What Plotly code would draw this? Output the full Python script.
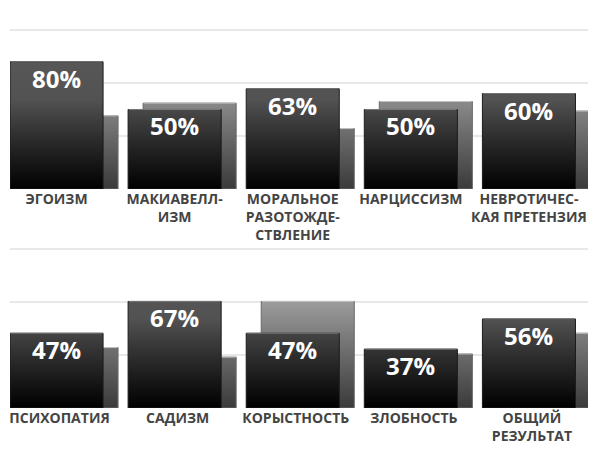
'''
Two rows of paired bars: test score (front, dark) against a reference level (back, grey).
'''

import plotly.graph_objects as go

# Row 1
labels_top = [
    'ЭГОИЗМ',
    'МАКИАВЕЛЛ-<br>ИЗМ',
    'МОРАЛЬНОЕ<br>РАЗОТОЖДЕ-<br>СТВЛЕНИЕ',
    'НАРЦИССИЗМ',
    'НЕВРОТИЧЕС-<br>КАЯ ПРЕТЕНЗИЯ',
]
score_top = [80, 50, 63, 50, 60]
norm_top = [46, 54, 38, 55, 49]

# Row 2
labels_bottom = [
    'ПСИХОПАТИЯ',
    'САДИЗМ',
    'КОРЫСТНОСТЬ',
    'ЗЛОБНОСТЬ',
    'ОБЩИЙ<br>РЕЗУЛЬТАТ',
]
score_bottom = [47, 67, 47, 37, 56]
norm_bottom = [38, 32, 67, 34, 47]

BAR_W = 0.788       # bar width in category units
BACK_SHIFT = 0.127  # back bar offset to the right
FONT = 'Open Sans'


def rects(values, shift):
    '''Polygon outlines for a set of bars, separated by None.'''
    xs, ys = [], []
    for i, v in enumerate(values):
        x0 = i - BAR_W / 2 + shift
        x1 = x0 + BAR_W
        h = v / 100
        xs += [x0, x0, x1, x1, x0, None]
        ys += [0, h, h, 0, 0, None]
    return xs, ys


def tops(values, shift):
    '''Top edges of bars (lighter highlight line).'''
    xs, ys = [], []
    for i, v in enumerate(values):
        x0 = i - BAR_W / 2 + shift
        xs += [x0 + 0.006, x0 + BAR_W - 0.006, None]
        ys += [v / 100, v / 100, None]
    return xs, ys


def add_row(fig, scores, norms, xa, ya):
    # back (reference) bars
    bx, by = rects(norms, BACK_SHIFT)
    fig.add_trace(go.Scatter(
        x=bx, y=by, xaxis=xa, yaxis=ya,
        mode='lines', fill='toself',
        fillgradient={'type': 'vertical', 'start': 0, 'stop': 0.67,
                      'colorscale': [[0, '#3a3a3a'], [0.5, '#6a6a6a'],
                                     [1, '#9c9c9c']]},
        line={'color': '#6a6a6a', 'width': 1},
        hoverinfo='skip', showlegend=False
    ))
    tx, ty = tops(norms, BACK_SHIFT)
    fig.add_trace(go.Scatter(
        x=tx, y=ty, xaxis=xa, yaxis=ya, mode='lines',
        line={'color': '#c4c4c4', 'width': 1},
        hoverinfo='skip', showlegend=False
    ))

    # front (score) bars
    fx, fy = rects(scores, 0)
    fig.add_trace(go.Scatter(
        x=fx, y=fy, xaxis=xa, yaxis=ya,
        mode='lines', fill='toself',
        fillgradient={'type': 'vertical', 'start': 0, 'stop': 0.8,
                      'colorscale': [[0, '#000000'], [0.19, '#151515'],
                                     [0.375, '#2a2a2a'], [0.525, '#3c3c3c'],
                                     [0.7, '#525252'], [1, '#575757']]},
        line={'color': '#1c1c1c', 'width': 1},
        hoverinfo='skip', showlegend=False
    ))
    tx, ty = tops(scores, 0)
    fig.add_trace(go.Scatter(
        x=tx, y=ty, xaxis=xa, yaxis=ya, mode='lines',
        line={'color': '#7a7a7a', 'width': 1},
        hoverinfo='skip', showlegend=False
    ))

    # value labels inside the front bars
    for i, v in enumerate(scores):
        fig.add_annotation(
            x=i, y=v / 100, xref=xa, yref=ya,
            text=f'{v}%', showarrow=False,
            yanchor='top', yshift=2,
            font={'family': FONT, 'size': 24, 'color': 'white',
                  'weight': 'bold'},
        )


def main() -> None:
    fig = go.Figure()
    add_row(fig, score_top, norm_top, 'x', 'y')
    add_row(fig, score_bottom, norm_bottom, 'x2', 'y2')

    xcommon = dict(
        range=[-0.394, 4.5],
        showgrid=False, zeroline=False, showline=False,
        ticks='',
        automargin=False,
        ticklabeloverflow='allow',
        tickfont={'family': FONT, 'size': 14, 'color': '#444444',
                  'weight': 'bold'},
        fixedrange=True,
    )
    ycommon = dict(
        range=[0, 1.02],
        tickvals=[0, 1 / 3, 2 / 3, 1],
        showticklabels=False,
        showgrid=True, gridcolor='#e8e8e8', gridwidth=2,
        zeroline=False, showline=False,
        automargin=False,
        fixedrange=True,
    )

    fig.update_layout(
        xaxis={**xcommon, 'anchor': 'y', 'domain': [0, 1],
               'tickvals': list(range(5)), 'ticktext': labels_top},
        yaxis={**ycommon, 'anchor': 'x', 'domain': [0.6082, 0.9593]},
        xaxis2={**xcommon, 'anchor': 'y2', 'domain': [0, 1],
                'tickvals': list(range(5)), 'ticktext': labels_bottom,
                'ticklabelshift': 3},
        yaxis2={**ycommon, 'anchor': 'x2', 'domain': [0.1342, 0.4853]},
        width=589,
        height=462,
        margin={'l': 2, 'r': 9, 't': 0, 'b': 0},
        paper_bgcolor='white',
        plot_bgcolor='white',
        font={'family': FONT},
    )

    fig.write_html('out.html')


if __name__ == '__main__':
    main()
